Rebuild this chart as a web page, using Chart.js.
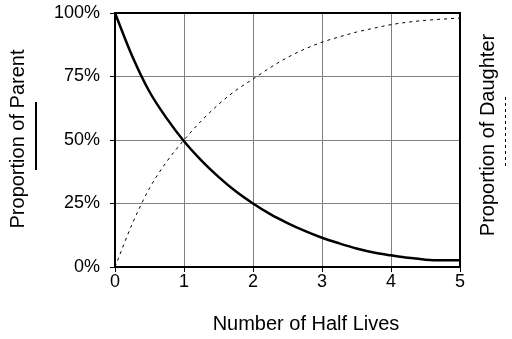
<!DOCTYPE html>
<html>
<head>
<meta charset="utf-8">
<script src="https://cdn.jsdelivr.net/npm/chart.js@4.4.1/dist/chart.umd.min.js"></script>
<style>
  html, body { margin: 0; padding: 0; background: #fff; }
  #wrap { width: 512px; height: 339px; position: relative; }
</style>
</head>
<body>
<div id="wrap"><canvas id="decay"></canvas></div>
<script>
// Half lives elapsed and the share of parent / daughter atoms (%)
const halfLives = [0, 0.25, 0.5, 0.75, 1, 1.25, 1.5, 1.75, 2, 2.25, 2.5,
                   2.75, 3, 3.25, 3.5, 3.75, 4, 4.25, 4.5, 4.75, 5];
const parent   = [100, 83, 69, 58.5, 49.5, 42, 35.5, 29.8, 25, 20.8, 17.3,
                  14.2, 11.5, 9.3, 7.3, 5.7, 4.6, 3.6, 2.9, 2.7, 2.7];
const daughter = [0, 17, 31, 41.5, 50, 57.5, 64, 69.5, 74, 78.5, 82.5,
                  85.8, 88.5, 90.6, 92.5, 94, 95.4, 96.4, 97.1, 97.6, 98];
const xTicks = [0, 1, 2, 3, 4, 5];
const yTicks = [0, 25, 50, 75, 100];

const FONT = 'Arial, "Liberation Sans", sans-serif';

function pts(ys) {
    return halfLives.map((x, i) => ({ x: x, y: ys[i] }));
}

// frame round the plot plus the axis titles with their line keys
const decorations = {
    id: 'decorations',
    afterDatasetsDraw(chart) {
        const ctx = chart.ctx;
        const a = chart.chartArea;
        ctx.save();
        ctx.strokeStyle = '#000';
        ctx.lineWidth = 2;
        ctx.strokeRect(a.left, a.top, a.right - a.left, a.bottom - a.top);

        ctx.fillStyle = '#000';
        ctx.font = '20px ' + FONT;
        ctx.textAlign = 'center';
        ctx.textBaseline = 'middle';
        ctx.fillText('Number of Half Lives', 306, 324);

        ctx.save();
        ctx.translate(18, 139);
        ctx.rotate(-Math.PI / 2);
        ctx.fillText('Proportion of Parent', 0, 0);
        ctx.restore();

        ctx.save();
        ctx.translate(488, 135);
        ctx.rotate(-Math.PI / 2);
        ctx.fillText('Proportion of Daughter', 0, 0);
        ctx.restore();

        ctx.lineWidth = 2;
        ctx.beginPath();
        ctx.moveTo(36, 102);
        ctx.lineTo(36, 170);
        ctx.stroke();

        ctx.lineWidth = 1;
        ctx.setLineDash([3, 3]);
        ctx.beginPath();
        ctx.moveTo(505.5, 97);
        ctx.lineTo(505.5, 166);
        ctx.stroke();
        ctx.restore();
    }
};

new Chart(document.getElementById('decay'), {
    type: 'line',
    data: {
        datasets: [{
            label: 'Parent',
            data: pts(parent),
            borderColor: '#000',
            borderWidth: 2.5,
            pointRadius: 0,
            cubicInterpolationMode: 'monotone'
        }, {
            label: 'Daughter',
            data: pts(daughter),
            borderColor: '#000',
            borderWidth: 1,
            borderDash: [3, 4],
            pointRadius: 0,
            cubicInterpolationMode: 'monotone'
        }]
    },
    options: {
        responsive: true,
        maintainAspectRatio: false,
        animation: false,
        layout: { padding: { left: 0, top: 13, right: 52, bottom: 0 } },
        plugins: {
            legend: { display: false },
            tooltip: { enabled: false }
        },
        scales: {
            x: {
                type: 'linear',
                min: 0,
                max: 5,
                afterBuildTicks: s => { s.ticks = xTicks.map(v => ({ value: v })); },
                afterFit: s => { s.height = 72; s.paddingLeft = 0; s.paddingRight = 0; },
                grid: { color: '#808080', tickColor: '#000', tickLength: 5, lineWidth: 1 },
                border: { color: '#000', width: 2 },
                ticks: { color: '#000', font: { family: FONT, size: 18 }, padding: -1, maxRotation: 0 }
            },
            y: {
                min: 0,
                max: 100,
                afterBuildTicks: s => { s.ticks = yTicks.map(v => ({ value: v })); },
                afterFit: s => { s.width = 115; s.paddingTop = 0; s.paddingBottom = 0; },
                grid: { color: '#808080', tickColor: '#000', tickLength: 5, lineWidth: 1 },
                border: { color: '#000', width: 2 },
                ticks: {
                    color: '#000',
                    font: { family: FONT, size: 18 },
                    padding: 10,
                    callback: v => v + '%'
                }
            }
        }
    },
    plugins: [decorations]
});
</script>
</body>
</html>
